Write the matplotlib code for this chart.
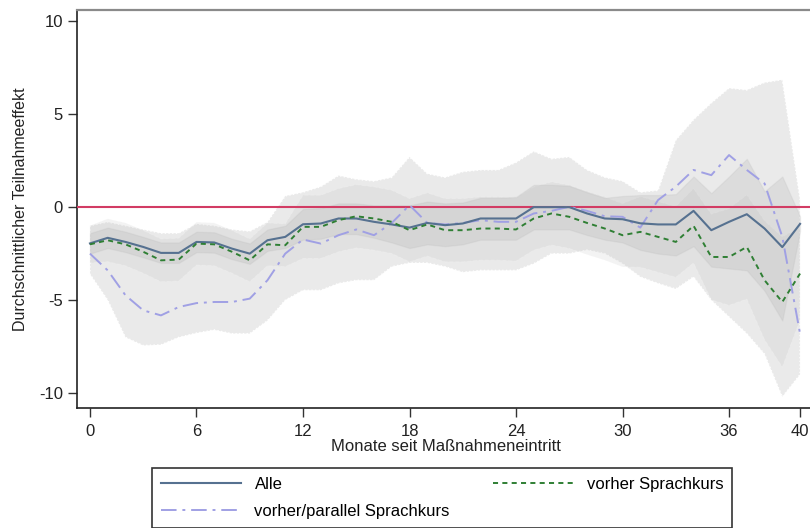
import matplotlib
matplotlib.use("Agg")
import matplotlib.pyplot as plt

plt.rcParams['font.family'] = ['Liberation Sans', 'DejaVu Sans']

months = list(range(41))

alle = [-1.95, -1.65, -1.87, -2.14, -2.46, -2.46, -1.87, -1.90, -2.23, -2.50,
        -1.78, -1.60, -0.92, -0.88, -0.61, -0.61, -0.79, -0.93, -1.10, -0.85,
        -0.97, -0.88, -0.61, -0.61, -0.61, 0.00, 0.00, 0.00, -0.34, -0.61,
        -0.65, -0.87, -0.93, -0.93, -0.20, -1.24, -0.79, -0.38, -1.15, -2.15,
        -0.90]
alle_lo = [-2.50, -2.20, -2.42, -2.70, -3.00, -3.00, -2.42, -2.45, -2.80, -3.05,
           -2.35, -2.20, -1.75, -1.70, -1.45, -1.45, -1.65, -1.90, -2.20, -2.00,
           -2.10, -2.00, -1.75, -1.75, -1.75, -1.20, -1.20, -1.20, -1.50, -1.75,
           -1.90, -2.30, -2.50, -2.60, -2.10, -3.20, -3.30, -3.40, -4.50, -6.10,
           -1.30]
alle_hi = [-1.40, -1.10, -1.32, -1.60, -1.90, -1.90, -1.32, -1.35, -1.70, -1.95,
           -1.20, -1.00, -0.10, -0.05, 0.20, 0.20, 0.10, 0.10, 0.10, 0.30,
           0.20, 0.25, 0.50, 0.50, 0.55, 1.20, 1.20, 1.15, 0.80, 0.50,
           0.60, 0.65, 0.65, 0.70, 1.65, 0.75, 1.65, 2.60, 0.85, 1.65,
           -0.50]

vorher = [-2.00, -1.78, -2.00, -2.40, -2.86, -2.82, -1.96, -2.00, -2.40, -2.86,
          -2.00, -2.05, -1.06, -1.06, -0.70, -0.49, -0.61, -0.79, -1.24, -0.93,
          -1.24, -1.24, -1.15, -1.15, -1.20, -0.61, -0.34, -0.52, -0.85, -1.15,
          -1.51, -1.33, -1.60, -1.87, -1.00, -2.68, -2.68, -2.14, -3.93, -5.10,
          -3.57]
vorher_lo = [-3.00, -2.93, -3.15, -3.55, -4.01, -3.97, -3.11, -3.15, -3.55, -4.01,
             -3.15, -3.20, -2.76, -2.76, -2.40, -2.19, -2.31, -2.49, -2.94, -2.63,
             -2.94, -2.94, -2.85, -2.85, -2.90, -2.31, -2.04, -2.22, -2.55, -2.85,
             -3.21, -3.23, -3.50, -3.77, -3.00, -4.98, -5.28, -4.94, -7.13, -8.60,
             -6.07]
vorher_hi = [-1.00, -0.63, -0.85, -1.25, -1.71, -1.67, -0.81, -0.85, -1.25, -1.71,
             -0.85, -0.90, 0.64, 0.64, 1.00, 1.21, 1.09, 0.91, 0.46, 0.77,
             0.46, 0.46, 0.55, 0.55, 0.50, 1.09, 1.36, 1.18, 0.85, 0.55,
             0.19, 0.57, 0.30, 0.03, 1.00, -0.38, -0.08, 0.66, -0.73, -1.60,
             -1.07]

parallel = [-2.50, -3.40, -4.74, -5.55, -5.82, -5.37, -5.16, -5.10, -5.10, -4.92,
            -3.93, -2.50, -1.74, -1.96, -1.51, -1.20, -1.51, -0.85, 0.11, -0.85,
            -0.93, -0.85, -0.70, -0.79, -0.79, -0.34, -0.20, 0.02, -0.20, -0.49,
            -0.52, -1.10, 0.38, 1.10, 2.00, 1.72, 2.80, 2.00, 1.27, -1.60,
            -6.80]
parallel_lo = [-3.60, -5.00, -7.00, -7.44, -7.40, -7.00, -6.77, -6.60, -6.80, -6.80,
               -6.10, -5.00, -4.47, -4.47, -4.10, -3.93, -3.93, -3.20, -3.00, -3.00,
               -3.20, -3.50, -3.40, -3.40, -3.40, -3.04, -2.50, -2.50, -2.30, -2.50,
               -3.04, -3.75, -4.10, -4.40, -3.75, -5.00, -5.90, -6.80, -7.90, -10.20,
               -9.00]
parallel_hi = [-1.00, -0.80, -1.00, -1.20, -1.40, -1.40, -0.90, -1.00, -1.20, -1.30,
               -0.80, 0.60, 0.80, 1.10, 1.70, 1.50, 1.40, 1.60, 2.70, 1.80,
               1.60, 1.90, 2.00, 2.00, 2.40, 3.00, 2.60, 2.70, 2.00, 1.60,
               1.40, 0.80, 0.90, 3.60, 4.70, 5.60, 6.40, 6.30, 6.70, 6.85,
               0.40]

x_ticks = [0, 6, 12, 18, 24, 30, 36, 40]
y_ticks = [-10, -5, 0, 5, 10]
labels = ["Alle", "vorher/parallel Sprachkurs", "vorher Sprachkurs"]

fig = plt.figure(figsize=(8.10, 5.28), dpi=100)
W, H = 810, 528
ax = fig.add_axes([77 / W, 1 - 408 / H, (W - 77) / W, (408 - 10) / H])

# confidence bands
ax.fill_between(months, parallel_lo, parallel_hi, color='#eaeaea', alpha=1.0,
                edgecolor='white', linewidth=1.0, linestyle=':', zorder=1)
ax.fill_between(months, vorher_lo, vorher_hi, color='#b8b8b8', alpha=0.17,
                edgecolor='white', linewidth=0.8, linestyle='--', zorder=2)
ax.fill_between(months, alle_lo, alle_hi, color='#a0a0a0', alpha=0.18,
                edgecolor='#b5b5b5', linewidth=0.9, zorder=3)

ax.axhline(0, color='#d23c64', linewidth=1.5, zorder=4)

l_alle, = ax.plot(months, alle, color='#567190', linewidth=1.5, zorder=6)
l_par, = ax.plot(months, parallel, color='#a0a0e4', linewidth=1.4,
                 dashes=(8, 3, 1.5, 3), zorder=5)
l_vor, = ax.plot(months, vorher, color='#2f7f34', linewidth=1.4,
                 dashes=(2.6, 2.2), zorder=6)

ax.set_xlim(-0.73, 40.56)
ax.set_ylim(-10.8, 10.6)
ax.set_xticks(x_ticks)
ax.set_xticklabels([str(t) for t in x_ticks])
ax.set_yticks(y_ticks)
ax.set_yticklabels([str(t) for t in y_ticks])
ax.tick_params(axis='both', direction='out', length=6.5, width=1.0,
               color='#333333', labelsize=12, labelcolor='#222222')
ax.tick_params(axis='x', pad=5)
ax.tick_params(axis='y', pad=3.5)

for s in ['left', 'bottom']:
    ax.spines[s].set_color('#222222')
    ax.spines[s].set_linewidth(1.2)
ax.spines['top'].set_color('#8a8a8a')
ax.spines['top'].set_linewidth(1.6)
ax.spines['right'].set_visible(False)

ax.set_xlabel("Monate seit Maßnahmeneintritt", fontsize=12, color='#222222')
ax.xaxis.set_label_coords((446 - 77) / (W - 77), (408 - 439) / 398)
ax.set_ylabel("Durchschnittlicher Teilnahmeeffekt", fontsize=11.5, color='#222222')
ax.yaxis.set_label_coords((28 - 77) / (W - 77), 0.5)

leg = fig.legend([l_alle, l_par, l_vor], labels, loc='upper left',
                 bbox_to_anchor=(152 / W, 1 - 467.5 / H), ncol=2,
                 fontsize=12, frameon=True, fancybox=False, framealpha=1,
                 edgecolor='#333333', handlelength=4.8, handletextpad=0.8,
                 columnspacing=2.6, borderpad=0.55, labelspacing=0.74,
                 borderaxespad=0)
leg.get_frame().set_linewidth(1.2)

fig.savefig("out.png", dpi=100)
